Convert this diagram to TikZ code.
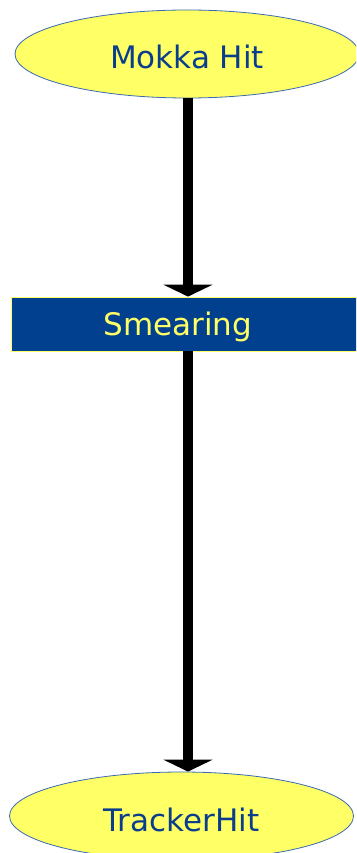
\documentclass[tikz,border=0pt]{standalone}
\usepackage{fontspec}
\setmainfont{DejaVu Sans}
\usetikzlibrary{arrows.meta,positioning,shapes.geometric}
\definecolor{mYel}  {HTML}{FFFF66}
\definecolor{mBlue} {HTML}{00408F}
\definecolor{mEdge} {HTML}{3A6AB0}
\definecolor{mText} {HTML}{0A3E8C}

\begin{document}
\begin{tikzpicture}[
  x=1pt, y=-1pt, font=\fontsize{31}{36}\selectfont,
  datanode/.style={ellipse, draw=mEdge, line width=0.8pt, fill=mYel, text=mText,
                   inner sep=0pt, minimum width=344pt, minimum height=88pt,
                   text height=30pt, text depth=0pt},
  procbox/.style={rectangle, draw=mYel, line width=0.8pt, fill=mBlue,
                  inner sep=0pt, minimum width=350pt, minimum height=54pt},
  ar/.style={-{Triangle[width=49pt,length=12pt]}, draw=black, line width=10pt},
]
\useasboundingbox (0,0) rectangle (356,853);
\clip (0,0) rectangle (356,853);

% ---------------------------------------------------------------- knoten
\node[datanode] at (187,54) (mokka) {Mokka Hit};
\node[procbox, label={[text=mYel, xshift=-8pt, text depth=0pt]center:Smearing}] at (186,324) (smear) {};
\node[datanode] at (181.5,816) (tracker) {TrackerHit};

% ---------------------------------------------------------------- pfeile
\coordinate (ax) at (188,0);
\draw[ar] (mokka.south -| ax) -- (smear.north -| ax);
\draw[ar] (smear.south -| ax) -- (tracker.north -| ax);

\end{tikzpicture}
\end{document}
